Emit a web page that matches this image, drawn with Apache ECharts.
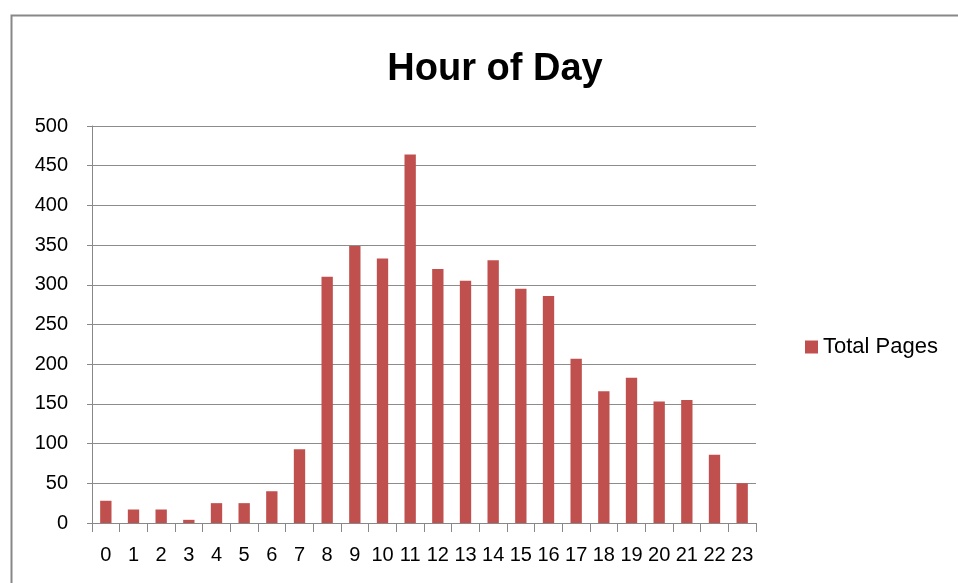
<!DOCTYPE html>
<html>
<head>
<meta charset="utf-8">
<script src="https://cdn.jsdelivr.net/npm/echarts@6/dist/echarts.min.js"></script>
<style>html,body{margin:0;padding:0;background:#fff}#c{width:958px;height:583px}</style>
</head>
<body>
<div id="c"></div>
<script>
const titleText = 'Hour of Day';
const seriesName = 'Total Pages';
const hours = ['0','1','2','3','4','5','6','7','8','9','10','11','12','13','14','15','16','17','18','19','20','21','22','23'];
const totalPages = [28, 17, 17, 4, 25, 25, 40, 93, 310, 349, 333, 464, 320, 305, 331, 295, 286, 207, 166, 183, 153, 155, 86, 50];
const yMin = 0, yMax = 500, yStep = 50;

const chart = echarts.init(document.getElementById('c'), null, {renderer: 'canvas'});
const font = 'Liberation Sans, Arial, sans-serif';
chart.setOption({
  animation: false,
  backgroundColor: '#fff',
  graphic: [{
    type: 'rect', left: 9, top: 13, silent: true,
    shape: {width: 980, height: 620},
    style: {fill: 'none', stroke: '#888', lineWidth: 2}
  }],
  title: {
    text: titleText, left: 490, top: 46, textAlign: 'center',
    textStyle: {fontFamily: font, fontSize: 38, fontWeight: 'bold', color: '#000'}
  },
  legend: {
    data: [seriesName], left: 800, top: 331, itemWidth: 13, itemHeight: 13, itemGap: 6,
    icon: 'rect',
    textStyle: {fontFamily: font, fontSize: 22, color: '#000', padding: [0,0,0,0]}
  },
  grid: {left: 92, right: 202, top: 126, bottom: 60, containLabel: false},
  xAxis: {
    type: 'category', data: hours,
    axisLine: {lineStyle: {color: '#888', width: 1}},
    axisTick: {show: true, alignWithLabel: false, length: 9, lineStyle: {color: '#888'}},
    axisLabel: {interval: 0, margin: 22, fontFamily: font, fontSize: 20, color: '#000'}
  },
  yAxis: {
    type: 'value', min: yMin, max: yMax, interval: yStep,
    axisLine: {show: true, lineStyle: {color: '#888', width: 1}},
    axisTick: {show: true, length: 5, lineStyle: {color: '#888'}},
    axisLabel: {margin: 24, fontFamily: font, fontSize: 20, color: '#000'},
    splitLine: {lineStyle: {color: '#8c8c8c', width: 1}}
  },
  series: [{
    name: seriesName, type: 'bar', data: totalPages, barWidth: '41%',
    itemStyle: {color: '#C0504D'}
  }]
});
</script>
</body>
</html>
